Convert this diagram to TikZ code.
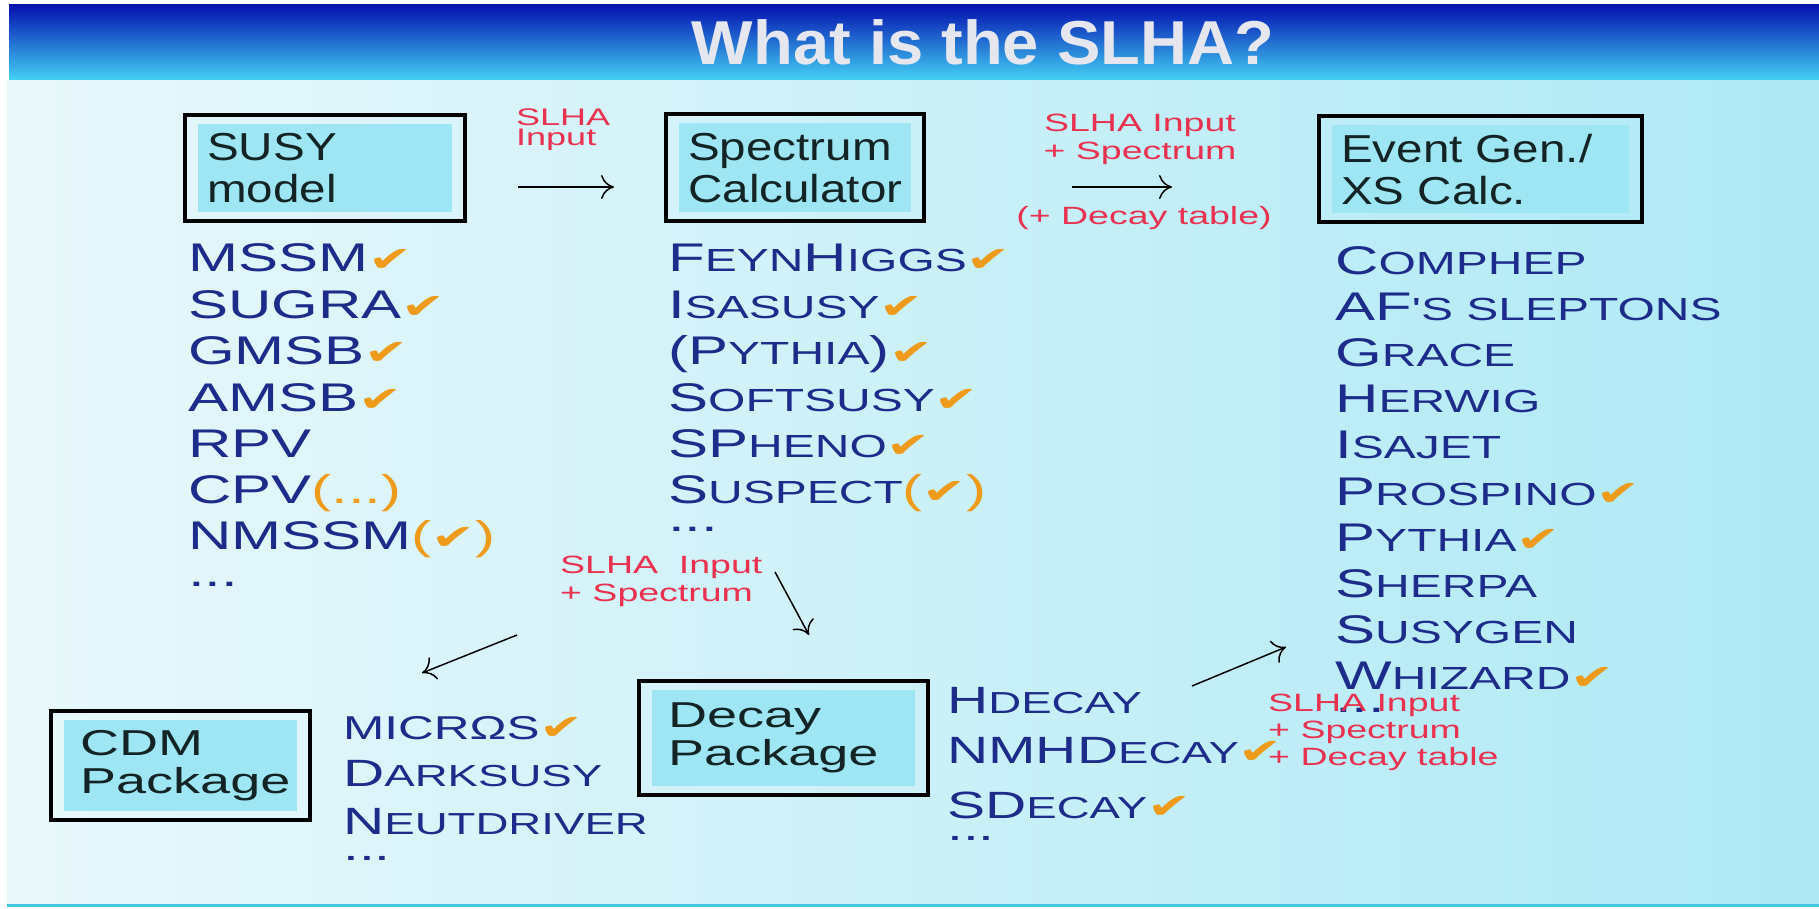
\documentclass[tikz,border=0pt]{standalone}
\usepackage{fontspec}
\setmainfont{Liberation Sans}
\newfontfamily\strf[FakeStretch=1.5]{Liberation Sans}
\newfontfamily\boxf[FakeStretch=1.22]{Liberation Sans}
\newfontfamily\titlef[FakeStretch=1.05]{Liberation Sans}
\newfontfamily\ckf[FakeStretch=1.5]{DejaVu Sans}
\usetikzlibrary{arrows.meta,fit}
\definecolor{boxcyan}{HTML}{9EE6F3}
\definecolor{listblue}{HTML}{1D2C8A}
\definecolor{slhared}{HTML}{E8324F}
\definecolor{chk}{HTML}{EE9A1A}
\definecolor{boxtext}{HTML}{142424}
\definecolor{titletop}{HTML}{0410B0}
\definecolor{titlemid}{HTML}{1C6CE0}
\definecolor{titlebot}{HTML}{44D4F4}
\definecolor{bgleft}{HTML}{E9F8FB}
\definecolor{bgmid}{HTML}{F4FBFD}
\definecolor{bgright}{HTML}{AEE9F5}
\definecolor{titletext}{HTML}{E6E7EE}
\definecolor{lineblue}{HTML}{40C8E0}
\makeatletter
\newcommand\smc[1]{{\fontsize{\fpeval{0.8*\f@size}}{0}\selectfont #1}}
\makeatother
\newcommand\ck{{\ckf\color{chk}\fontsize{35}{35}\selectfont ✔}}
\newcommand\op[1]{{\color{chk}#1}}
\tikzset{
  inbox/.style={fill=boxcyan, anchor=north west, inner xsep=9pt, inner ysep=0pt,
    align=left, text=boxtext, font=\boxf\fontsize{39}{42}\selectfont},
  inboxb/.style={inbox, inner xsep=16pt, font=\strf\fontsize{36}{38}\selectfont},
  outbox/.style={draw=black, line width=4pt, inner xsep=13pt, inner ysep=9pt},
  lst/.style={anchor=base west, inner sep=0pt, text=listblue, font=\strf\fontsize{40}{40}\selectfont},
  lsts/.style={anchor=base west, inner sep=0pt, text=listblue, font=\strf\fontsize{38}{38}\selectfont},
  lab/.style={inner sep=0pt, text=slhared, font=\strf\fontsize{25}{28}\selectfont},
  arr/.style={line width=1.5pt, -{Computer Modern Rightarrow[length=13pt,width=24pt]}}
}
\begin{document}
\begin{tikzpicture}[x=1pt,y=-1pt]
\useasboundingbox (0,0) rectangle (1819,909);
\fill[white] (0,0) rectangle (1819,909);
% title bar
\shade[top color=titletop, middle color=titlemid, bottom color=titlebot] (9,5) rectangle (1819,81);
% body
\shade[left color=bgleft, middle color=bgmid, right color=bgright] (7,81) rectangle (1819,903);
\draw[lineblue, line width=3pt] (7,905) -- (1819,905);
\node[anchor=base, inner sep=0pt, text=titletext, font=\titlef\bfseries\fontsize{62}{62}\selectfont] (title) at (983,65) {What is the SLHA?};

% boxes
\node[inbox, minimum width=254pt, minimum height=88pt, text width=236pt] (susyin) at (198,124) {SUSY\\model};
\node[outbox, fit=(susyin)] (susy) {};
\node[inbox, minimum width=232pt, minimum height=89pt, text width=214pt] (specin) at (679,123) {Spectrum\\Calculator};
\node[outbox, fit=(specin)] (spec) {};
\node[inbox, minimum width=297pt, minimum height=88pt, text width=279pt] (evin) at (1332,125) {Event Gen./\\XS Calc.};
\node[outbox, fit=(evin)] (ev) {};
\node[inboxb, minimum width=233pt, minimum height=91pt, text width=201pt] (cdmin) at (64,720) {CDM\\Package};
\node[outbox, fit=(cdmin)] (cdm) {};
\node[inboxb, minimum width=263pt, minimum height=96pt, text width=231pt] (decin) at (652,690) {Decay\\Package};
\node[outbox, fit=(decin)] (dec) {};

% left list
\node[lst] (m1) at (188,272) {MSSM\ck};
\node[lst] (m2) at (188,318) {SUGRA\ck};
\node[lst] (m3) at (188,364) {GMSB\ck};
\node[lst] (m4) at (188,411) {AMSB\ck};
\node[lst] (m5) at (188,457) {RPV};
\node[lst] (m6) at (188,503) {CPV\op{(...)}};
\node[lst] (m7) at (188,549) {NMSSM\op{(}\ck\op{)}};
\node[lst] (m8) at (188,586) {...};

% middle list
\node[lst] (s1) at (668,272) {F\smc{EYN}H\smc{IGGS}\ck};
\node[lst] (s2) at (668,318) {I\smc{SASUSY}\ck};
\node[lst] (s3) at (668,364) {(P\smc{YTHIA})\ck};
\node[lst] (s4) at (668,411) {S\smc{OFTSUSY}\ck};
\node[lst] (s5) at (668,457) {SP\smc{HENO}\ck};
\node[lst] (s6) at (668,503) {S\smc{USPECT}\op{(}\ck\op{)}};
\node[lst] (s7) at (668,531) {...};

% right list
\node[lst] (e1) at (1335,274) {C\smc{OMPHEP}};
\node[lst] (e2) at (1335,320) {AF\smc{'S SLEPTONS}};
\node[lst] (e3) at (1335,366) {G\smc{RACE}};
\node[lst] (e4) at (1335,412) {H\smc{ERWIG}};
\node[lst] (e5) at (1335,458) {I\smc{SAJET}};
\node[lst] (e6) at (1335,505) {P\smc{ROSPINO}\ck};
\node[lst] (e7) at (1335,551) {P\smc{YTHIA}\ck};
\node[lst] (e8) at (1335,597) {S\smc{HERPA}};
\node[lst] (e9) at (1335,643) {S\smc{USYGEN}};
\node[lst] (e10) at (1335,689) {W\smc{HIZARD}\ck};
\node[lst] (e11) at (1335,712) {...};

% CDM list
\node[lsts] (c1) at (343,739) {{\fontsize{33}{33}\selectfont MICRΩS}\ck};
\node[lsts] (c2) at (343,786) {D\smc{ARKSUSY}};
\node[lsts] (c3) at (343,834) {N\smc{EUTDRIVER}};
\node[lsts] (c4) at (343,860) {...};

% Decay list
\node[lsts] (d1) at (947,713) {H\smc{DECAY}};
\node[lsts] (d2) at (947,763) {NMHD\smc{ECAY}\ck};
\node[lsts] (d3) at (947,818) {SD\smc{ECAY}\ck};
\node[lsts] (d4) at (947,840) {...};

% labels (base = baseline of last line)
\node[lab, align=left, anchor=base west, font=\strf\fontsize{24}{20}\selectfont] (l1) at (516,146) {SLHA\\Input};
\node[lab, align=center, anchor=base] (l2) at (1140,160) {SLHA Input\\+ Spectrum};
\node[lab, anchor=base] (l2b) at (1144,225) {(+ Decay table)};
\node[lab, align=left, anchor=base west] (l3) at (560,601) {SLHA\ \ Input\\+ Spectrum};
\node[lab, align=left, anchor=base west, font=\strf\fontsize{25}{27}\selectfont] (l4) at (1268,765) {SLHA Input\\+ Spectrum\\+ Decay table};

% arrows
\coordinate (a1s) at (518,187); \coordinate (a1e) at (614,187);
\coordinate (a2s) at (1072,187); \coordinate (a2e) at (1172,187);
\coordinate (a3s) at (517,635); \coordinate (a3e) at (422,673);
\coordinate (a4s) at (775,572); \coordinate (a4e) at (809,635);
\coordinate (a5s) at (1192,686); \coordinate (a5e) at (1286,647);
\draw[arr] (a1s) -- (a1e);
\draw[arr] (a2s) -- (a2e);
\draw[arr] (a3s) -- (a3e);
\draw[arr] (a4s) -- (a4e);
\draw[arr] (a5s) -- (a5e);
\end{tikzpicture}
\end{document}
